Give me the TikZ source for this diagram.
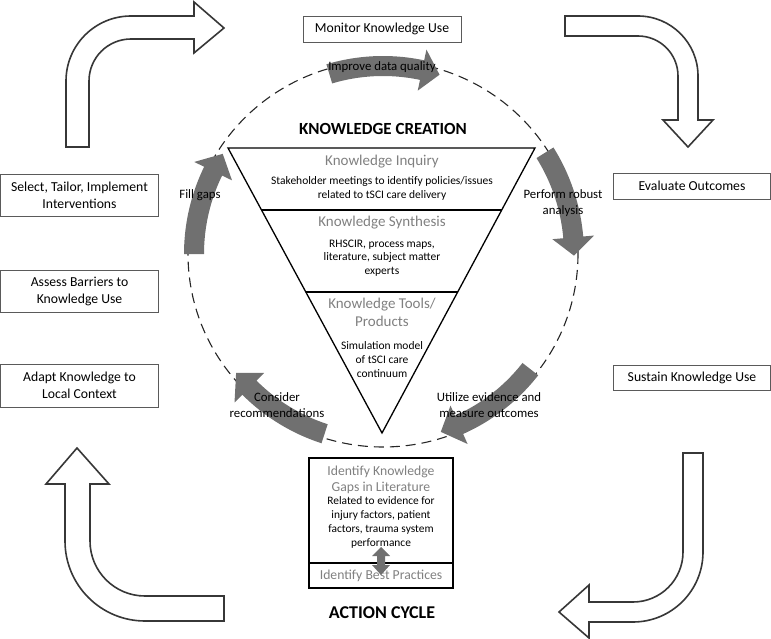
\documentclass[tikz,border=0pt]{standalone}
\usepackage{fontspec}
\setmainfont{Carlito}
\usepackage{tikz}

\definecolor{arrowgray}{RGB}{112,112,112}
\definecolor{headgray}{RGB}{128,128,128}
\definecolor{outline}{RGB}{55,55,55}
\definecolor{boxline}{RGB}{90,90,90}

% curved gray arrow round the knowledge circle: tail angle, head base angle, tip angle, radius
\newcommand{\cyclearrow}[4]{%
  \fill[arrowgray] plot[domain=#1:#2,samples=24] ({383+(#4+10)*cos(\x)},{254+(#4+10)*sin(\x)})
    -- ({383+(#4+21)*cos(#2)},{254+(#4+21)*sin(#2)})
    -- ({383+#4*cos(#3)},{254+#4*sin(#3)})
    -- ({383+(#4-21)*cos(#2)},{254+(#4-21)*sin(#2)})
    -- plot[domain=#2:#1,samples=24] ({383+(#4-10)*cos(\x)},{254+(#4-10)*sin(\x)}) -- cycle;}

\tikzset{
  stagebox/.style={draw=boxline, line width=0.9pt, fill=white, align=center, inner sep=0pt, font=\fontsize{13.7}{17}\selectfont},
  blockarrow/.style={draw=outline, line width=1.6pt, fill=white, line join=miter},
  steplabel/.style={align=center, inner sep=0pt, font=\fontsize{12.8}{16}\selectfont},
  phasehead/.style={align=center, inner sep=0pt, text=headgray, font=\fontsize{15}{18}\selectfont},
  phasetext/.style={align=center, inner sep=0pt, font=\fontsize{11.5}{13.8}\selectfont},
  cycletitle/.style={inner sep=0pt, font=\bfseries\fontsize{17}{20}\selectfont},
}

\begin{document}
\begin{tikzpicture}[x=1pt,y=1pt,yscale=-1,xscale=1]
    \useasboundingbox (0,0) rectangle (771,639);

    %Shape: Ellipse [dashed circle]
    \draw [black!85, line width=1.1pt, dash pattern=on 10pt off 6pt] (383,254) ellipse [x radius=195, y radius=193];

    %Shape: Triangle [funnel]
    \coordinate (tl) at (228,148);
    \coordinate (tr) at (535,148);
    \coordinate (apex) at (382,433);
    \draw [line width=1.3pt, line join=miter] (tl) -- (tr) -- (apex) -- cycle;
    \draw [line width=1.3pt] (261.5,210) -- (501.7,210);
    \draw [line width=1.3pt] (305.8,292) -- (457.7,292);

    %Curve Arrows
    \cyclearrow{-106.6}{-78}{-72.5}{188}
    \cyclearrow{-32}{-5}{0.5}{191}
    \cyclearrow{38}{66}{72}{187}
    \cyclearrow{108}{135}{141}{189}
    \cyclearrow{180}{206}{212}{189}

    % Text Node
    \node [cycletitle] (creation) at (383,129) {KNOWLEDGE CREATION};
    % Text Node
    \node [phasehead] (inquiry) at (382,162) {Knowledge Inquiry};
    \node [phasetext] (inquirytxt) at (382,188.5) {Stakeholder meetings to identify policies/issues\\related to tSCI care delivery};
    % Text Node
    \node [phasehead] (synthesis) at (382,223) {Knowledge Synthesis};
    \node [phasetext] (synthesistxt) at (382,258) {RHSCIR, process maps,\\literature, subject matter\\experts};
    % Text Node
    \node [phasehead] (tools) at (382,312) {Knowledge Tools/\\Products};
    \node [phasetext] (toolstxt) at (382,359.5) {Simulation model\\of tSCI care\\continuum};

    % Text Node
    \node [steplabel] (improve) at (382,67) {Improve data quality};
    \node [steplabel] (perform) at (563,203) {Perform robust\\analysis};
    \node [steplabel] (utilize) at (489,405.5) {Utilize evidence and\\measure outcomes};
    \node [steplabel] (consider) at (277,405.5) {Consider\\recommendations};
    \node [steplabel] (fill) at (200,195) {Fill gaps};

    %Shape: Rectangle [action cycle boxes]
    \node [stagebox, minimum width=158pt, minimum height=26pt] (monitor) at (382,29) {Monitor Knowledge Use};
    \node [stagebox, minimum width=157pt, minimum height=26pt] (evaluate) at (692,186) {Evaluate Outcomes};
    \node [stagebox, minimum width=157pt, minimum height=25pt] (sustain) at (692,377.5) {Sustain Knowledge Use};
    \node [stagebox, minimum width=158pt, minimum height=42pt] (select) at (79.5,195) {Select, Tailor, Implement\\Interventions};
    \node [stagebox, minimum width=158pt, minimum height=42pt] (assess) at (79.5,291) {Assess Barriers to\\Knowledge Use};
    \node [stagebox, minimum width=158pt, minimum height=43pt] (adapt) at (79.5,385.5) {Adapt Knowledge to\\Local Context};

    %Shape: Rectangle [knowledge gaps]
    \node [draw, line width=2pt, minimum width=144pt, minimum height=105pt, inner sep=0pt] (gaps) at (381,510.5) {};
    \node [draw, line width=2pt, minimum width=144pt, minimum height=25pt, inner sep=0pt] (best) at (381,575.5) {};
    \node [phasehead, font=\fontsize{13.7}{16}\selectfont] (gapstitle) at (381,480) {Identify Knowledge\\Gaps in Literature};
    \node [phasetext, font=\fontsize{11.4}{13.8}\selectfont] (gapstxt) at (381,522.5) {Related to evidence for\\injury factors, patient\\factors, trauma system\\performance};
    \node [phasehead, font=\fontsize{13.7}{16}\selectfont] (besttxt) at (381,576) {Identify Best Practices};
    %Shape: Double Arrow
    \fill [arrowgray] (381,547) -- (390,556) -- (385,556) -- (385,565) -- (390,565) -- (381,575) -- (372,565) -- (377,565) -- (377,556) -- (372,556) -- cycle;

    % Text Node
    \node [cycletitle, font=\bfseries\fontsize{18}{20}\selectfont] (action) at (382,613) {ACTION CYCLE};

    %Shape: Block Arc Arrows
    \draw [blockarrow] (66,147) -- (66,81) arc[start angle=180, end angle=270, radius=65] -- (194,16) -- (194,2) -- (224,28) -- (194,53) -- (194,39) -- (131,39) arc[start angle=270, end angle=180, radius=42] -- (89,147) -- cycle;
    \draw [blockarrow] (565,16) -- (638,16) arc[start angle=270, end angle=360, radius=60] -- (698,120) -- (713,120) -- (688,147) -- (663,120) -- (678,120) -- (678,76) arc[start angle=0, end angle=-90, radius=40] -- (565,36) -- cycle;
    \draw [blockarrow] (683,453) -- (703,453) -- (703,552) arc[start angle=0, end angle=90, radius=70] -- (589,622) -- (589,638) -- (559,612) -- (589,585) -- (589,602) -- (633,602) arc[start angle=90, end angle=0, radius=50] -- cycle;
    \draw [blockarrow] (77,448) -- (109,484) -- (90,484) -- (90,541) arc[start angle=180, end angle=90, radius=55] -- (224,596) -- (224,621) -- (145,621) arc[start angle=90, end angle=180, radius=80] -- (65,484) -- (46,484) -- cycle;

\end{tikzpicture}
\end{document}
